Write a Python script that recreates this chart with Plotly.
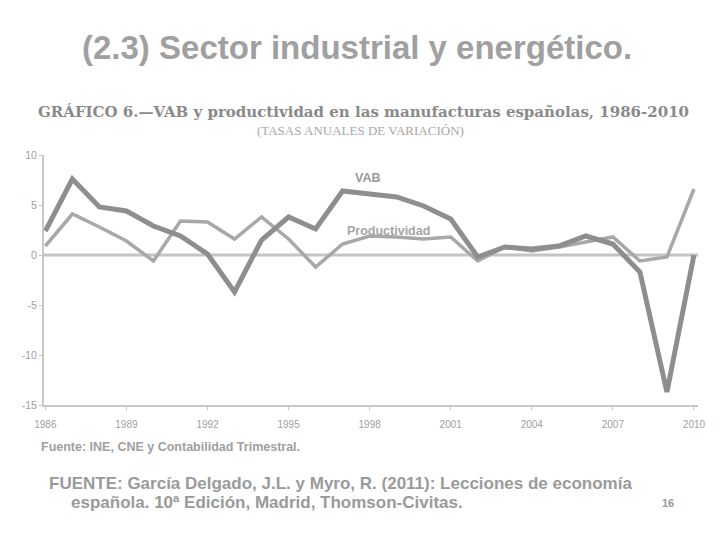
import plotly.graph_objects as go

years = list(range(1986, 2011))
vab = [2.4, 7.6, 4.8, 4.4, 2.9, 1.9, 0.1, -3.7, 1.5, 3.8, 2.6, 6.4, 6.1, 5.8, 4.9, 3.6,
       -0.2, 0.8, 0.6, 0.9, 1.9, 1.1, -1.7, -13.7, 0.0]
productividad = [0.9, 4.1, 2.8, 1.4, -0.6, 3.4, 3.3, 1.6, 3.8, 1.6, -1.2, 1.1, 1.9, 1.8, 1.6, 1.8,
                 -0.6, 0.8, 0.4, 0.8, 1.3, 1.8, -0.6, -0.2, 6.6]
x_ticks = [1986, 1989, 1992, 1995, 1998, 2001, 2004, 2007, 2010]
y_ticks = [10, 5, 0, -5, -10, -15]

L, R, T, B = 44, 22, 155, 135

fig = go.Figure()
fig.add_trace(go.Scatter(x=years, y=productividad, mode="lines",
                         line=dict(color="#a8a8a8", width=3.5), showlegend=False))
fig.add_trace(go.Scatter(x=years, y=vab, mode="lines",
                         line=dict(color="#8e8e8e", width=5), showlegend=False))

fig.add_shape(type="line", xref="paper", yref="y", x0=0, x1=1, y0=0, y1=0,
              line=dict(color="#c4c4c4", width=3), layer="below")

fig.update_layout(
    width=720, height=540,
    margin=dict(l=L, r=R, t=T, b=B),
    paper_bgcolor="white", plot_bgcolor="white",
    font=dict(family="Liberation Sans, Arial, sans-serif", color="#9a9a9a"),
    xaxis=dict(range=[1985.95, 2010.15], tickvals=x_ticks, ticktext=[str(t) for t in x_ticks],
               showgrid=False, zeroline=False, showline=True, linecolor="#c8c8c8", linewidth=2,
               ticks="outside", ticklen=3, tickcolor="#c8c8c8", ticklabelstandoff=6,
               tickfont=dict(size=10, color="#a0a0a0", family="Liberation Sans")),
    yaxis=dict(range=[-15, 10], tickvals=y_ticks, ticktext=[str(t) for t in y_ticks],
               showgrid=False, zeroline=False, showline=True, linecolor="#c8c8c8", linewidth=2,
               ticks="outside", ticklen=3, tickcolor="#c8c8c8",
               tickfont=dict(size=10.5, color="#a0a0a0", family="Liberation Sans")),
)

ann = [
    dict(text="<b>(2.3) Sector industrial y energético.</b>", x=357, y=47,
         font=dict(size=33, color="#a0a0a0", family="Liberation Sans")),
    dict(text="<b>GRÁFICO 6.—VAB y productividad en las manufacturas españolas, 1986-2010</b>",
         x=363, y=112, font=dict(size=15, color="#8a8a8a", family="DejaVu Serif")),
    dict(text="(TASAS ANUALES DE VARIACIÓN)", x=360, y=131,
         font=dict(size=13, color="#a8a8a8", family="Liberation Serif")),
    dict(text="<b>Fuente: INE, CNE y Contabilidad Trimestral.</b>", x=170, y=447,
         font=dict(size=12.5, color="#a0a0a0", family="Liberation Sans")),
    dict(text="<b>FUENTE: García Delgado, J.L. y Myro, R. (2011): Lecciones de economía</b>", x=340, y=483,
         font=dict(size=17, color="#9a9a9a", family="Liberation Sans")),
    dict(text="<b>española. 10ª Edición, Madrid, Thomson-Civitas.</b>", x=267, y=502,
         font=dict(size=17, color="#9a9a9a", family="Liberation Sans")),
    dict(text="<b>16</b>", x=668, y=503, font=dict(size=11, color="#9a9a9a", family="Liberation Sans")),
    dict(text="<b>VAB</b>", x=367, y=178, font=dict(size=12.5, color="#999999", family="Liberation Sans")),
    dict(text="<b>Productividad</b>", x=388, y=231, font=dict(size=12.5, color="#a5a5a5", family="Liberation Sans")),
]
for a in ann:
    px = (a["x"] - L) / (720 - L - R)
    py = (540 - B - a["y"]) / (540 - T - B)
    fig.add_annotation(text=a["text"], x=px, y=py, xref="paper", yref="paper",
                       xanchor="center", yanchor="middle", showarrow=False, font=a["font"])

fig.write_html("out.html")
